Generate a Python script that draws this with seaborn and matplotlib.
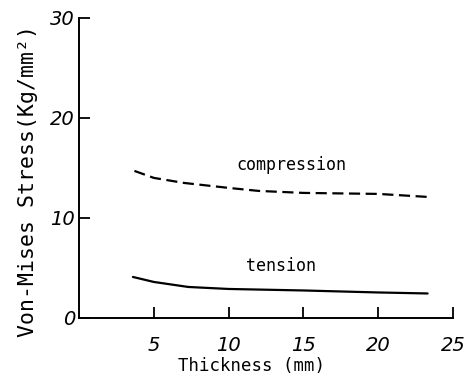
import pandas as pd
import matplotlib.pyplot as plt
import seaborn as sns

# values
thickness_comp = [3.7, 5.0, 7.0, 10.0, 12.0, 15.0, 20.0, 23.3]
stress_comp = [14.7, 14.0, 13.5, 13.0, 12.7, 12.5, 12.4, 12.1]
thickness_tens = [3.6, 5.0, 7.3, 10.0, 15.0, 20.0, 23.3]
stress_tens = [4.1, 3.6, 3.1, 2.9, 2.75, 2.55, 2.45]
x_ticks = [5, 10, 15, 20, 25]
y_ticks = [0, 10, 20, 30]

df = pd.concat([
    pd.DataFrame({'thickness': thickness_comp, 'stress': stress_comp, 'load': 'compression'}),
    pd.DataFrame({'thickness': thickness_tens, 'stress': stress_tens, 'load': 'tension'}),
])

sns.set_style('ticks')
plt.rcParams['font.family'] = ['DejaVu Sans Mono', 'DejaVu Sans']
plt.rcParams['text.color'] = 'black'
plt.rcParams['axes.labelcolor'] = 'black'

fig = plt.figure(figsize=(4.68, 3.79), dpi=100)
ax = fig.add_axes([0.169, 0.161, 0.799, 0.792])

sns.lineplot(data=df, x='thickness', y='stress', hue='load', style='load',
             palette={'compression': 'black', 'tension': 'black'},
             dashes={'compression': (5, 2.5), 'tension': ''},
             linewidth=1.6, legend=False, ax=ax)

ax.set_xlim(0, 25)
ax.set_ylim(0, 30)
ax.set_xticks(x_ticks)
ax.set_yticks(y_ticks)
ax.set_xticklabels([str(t) for t in x_ticks], fontstyle='italic', fontsize=14,
                   family='DejaVu Sans')
ax.set_yticklabels([str(t) for t in y_ticks], fontstyle='italic', fontsize=14,
                   family='DejaVu Sans')
ax.tick_params(axis='x', direction='in', length=8, width=1.3, pad=13, colors='black')
ax.tick_params(axis='y', direction='in', length=8, width=1.3, pad=3, colors='black')
for s in ['left', 'bottom']:
    ax.spines[s].set_linewidth(1.4)
    ax.spines[s].set_color('black')
sns.despine(ax=ax)

ax.set_xlabel('Thickness (mm)', fontsize=12.5)
ax.xaxis.set_label_coords(0.46, -0.13)
ax.set_ylabel('Von-Mises Stress(Kg/mm²)', fontsize=15.5)
ax.yaxis.set_label_coords(-0.11, 0.457)

ax.text(14.2, 15.3, 'compression', fontsize=12, ha='center', va='center')
ax.text(13.5, 5.2, 'tension', fontsize=12, ha='center', va='center')

fig.savefig('out.png', dpi=100)
